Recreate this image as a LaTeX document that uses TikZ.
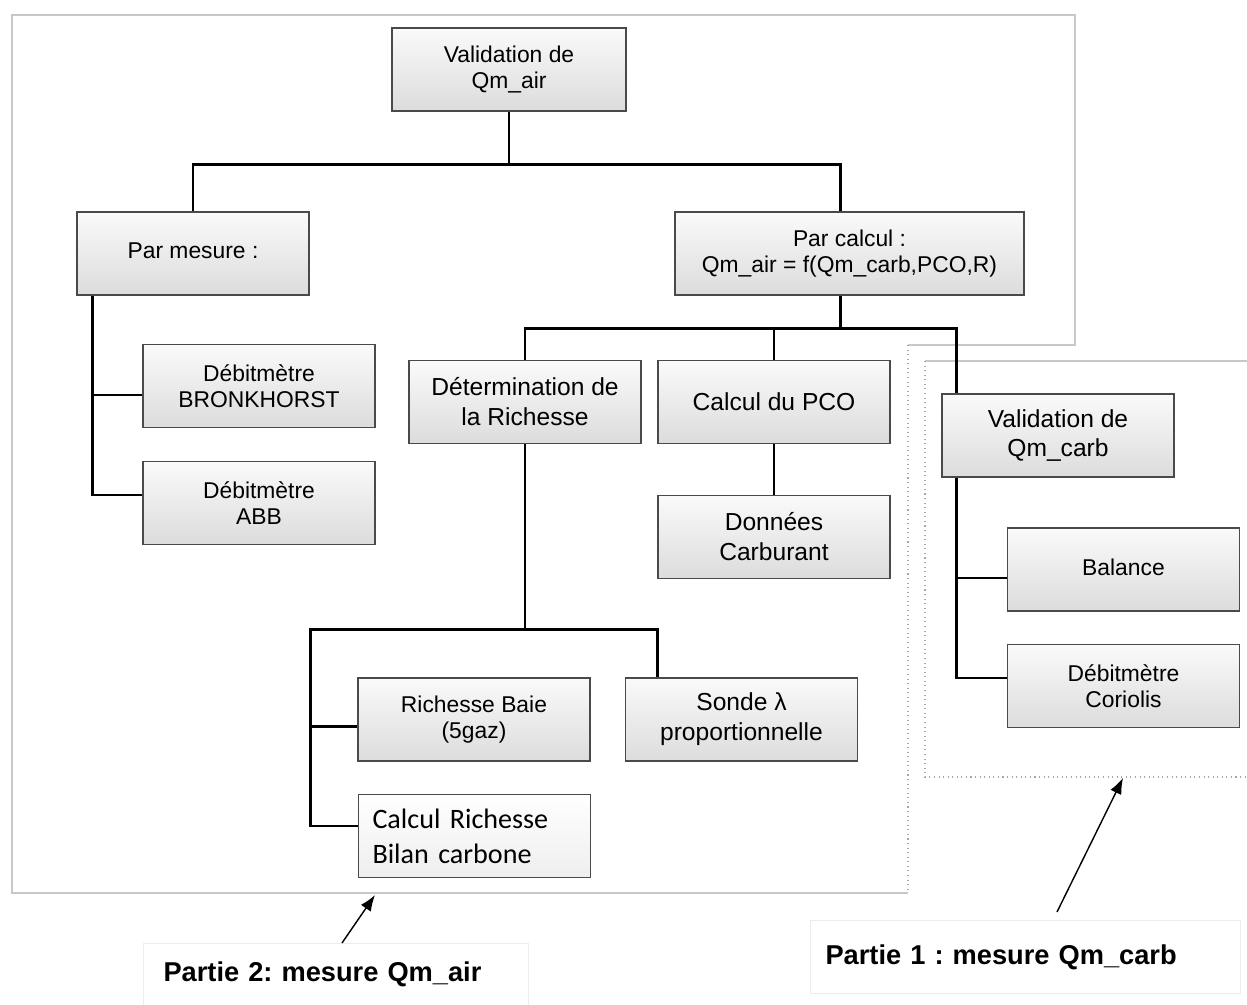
\documentclass[tikz,border=0pt]{standalone}
\usepackage{fontspec}
\setmainfont{Liberation Sans}
\newfontfamily\calibri{Carlito}
\usetikzlibrary{arrows.meta,positioning,calc}
\definecolor{boxline}{HTML}{4A4A4A}
\definecolor{boxtop}{HTML}{FAFAFA}
\definecolor{boxbottom}{HTML}{DCDCDC}
\definecolor{frameline}{HTML}{C8C8C8}
\frenchspacing
\tikzset{
  orgbox/.style={
    draw=boxline,
    line width=1pt,
    top color=boxtop,
    bottom color=boxbottom,
    minimum width=4.64cm,
    minimum height=1.66cm,
    align=center,
    inner sep=2pt,
    font=\fontsize{13}{15}\selectfont
  },
  widebox/.style={
    orgbox,
    minimum width=6.98cm
  },
  plainbox/.style={
    orgbox,
    top color=white,
    bottom color=boxtop!60!boxbottom,
    align=left,
    text width=4.08cm,
    inner xsep=2.8mm,
    font=\calibri\fontsize{16}{20}\selectfont
  },
  link/.style={
    line width=1.6pt,
    draw=black
  },
  framing/.style={
    draw=frameline,
    line width=0.6pt
  },
  dotframe/.style={
    draw=gray!70,
    line width=0.6pt,
    dotted
  },
  caption/.style={
    draw=gray!15,
    line width=0.6pt,
    fill=white,
    align=left,
    font=\bfseries\fontsize{15.5}{18}\selectfont
  },
  arrow/.style={
    -{Latex[length=3.2mm,width=2.4mm]},
    line width=0.8pt
  }
}

\begin{document}
\begin{tikzpicture}[x=0.2mm,y=-0.2mm]
\useasboundingbox (0,0) rectangle (1247,1005);

% frames of the two parts
\draw[framing] (908,345) -- (1075,345) -- (1075,15) -- (12,15) -- (12,893) -- (908,893);
\draw[dotframe] (908,345) -- (908,893);
\draw[framing] (925,361) -- (1247,361);
\draw[dotframe] (925,361) -- (925,777) -- (1247,777);

% Qm_air tree
\node[orgbox, minimum width=4.68cm] (vair) at (509,69.5) {Validation de\\Qm\_air};
\node[orgbox] (mesure) at (193,253.5) {\raisebox{1mm}{Par mesure :}};
\node[widebox] (calc) at (849.5,253.5) {Par calcul :\\Qm\_air = f(Qm\_carb,PCO,R)};
\node[orgbox] (bronk) at (259,386) {Débitmètre\\BRONKHORST};
\node[orgbox] (abb) at (259,503) {Débitmètre\\ABB};
\node[orgbox, font=\fontsize{14}{17}\selectfont] (richdet) at (525,402) {Détermination de\\la Richesse};
\node[orgbox, font=\fontsize{14}{17}\selectfont] (pco) at (774,402) {Calcul du PCO};
\node[orgbox, font=\fontsize{14}{17}\selectfont] (donnees) at (774,537) {Données\\Carburant};
\node[orgbox] (baie) at (474,719.5) {Richesse Baie\\(5gaz)};
\node[orgbox, font=\fontsize{14}{17}\selectfont] (sonde) at (741.5,719.5) {Sonde λ\\proportionnelle};
\node[plainbox] (calcr) at (474.5,836) {Calcul Richesse\\Bilan carbone};

% Qm_carb tree
\node[orgbox, font=\fontsize{14}{17}\selectfont] (vcarb) at (1058,435.5) {Validation de\\Qm\_carb};
\node[orgbox] (balance) at (1123.5,569.5) {\raisebox{1mm}{Balance}};
\node[orgbox] (corio) at (1123.5,686) {Débitmètre\\Coriolis};

% connectors
\draw[link] (vair.south) -- ++(0,53) coordinate (t1);
\draw[link] (mesure.north) |- (t1) -| ([xshift=-1.8mm]calc.north);
\draw[link] ([xshift=3.2mm]mesure.south west) |- ([yshift=-1.8mm]bronk.west);
\draw[link] ([xshift=3.2mm]mesure.south west) |- ([yshift=1.6mm]abb.west);
\draw[link] ([xshift=-1.8mm]calc.south) -- ++(0,33) coordinate (t2);
\draw[link] (richdet.north) |- (t2) -| ([xshift=3mm]vcarb.north west);
\draw[link] (pco.north) -- (pco.north |- t2);
\draw[link] (pco.south) -- (donnees.north);
\draw[link] (richdet.south) -- ++(0,185) coordinate (t3);
\draw[link] ([xshift=6.6mm]sonde.north west) |- (t3) -| ([xshift=-9.4mm,yshift=2mm]calcr.west) -- ([yshift=2mm]calcr.west);
\draw[link] ([xshift=-9.4mm]baie.west |- t3) |- ([yshift=-1.4mm]baie.west);
\draw[link] ([xshift=3mm]vcarb.south west) |- ([yshift=-1.7mm]balance.west);
\draw[link] ([xshift=3mm]vcarb.south west) |- ([yshift=1.6mm]corio.west);

% captions
\node[caption, anchor=north west, minimum width=7.68cm, text width=6.9cm, inner xsep=4mm, inner ysep=3.6mm, text depth=1cm] (cap2) at (143,943) {Partie 2: mesure Qm\_air};
\node[caption, anchor=north west, minimum width=8.6cm, minimum height=1.46cm, text width=8cm, inner xsep=3mm] (cap1) at (810,920) {Partie 1 : mesure Qm\_carb};
\coordinate (p2) at (375,895);
\coordinate (p1) at (1123,778);
\draw[arrow] ([xshift=39.8mm]cap2.north west) -- (p2);
\draw[arrow] (1057,912) -- (p1);
\end{tikzpicture}
\end{document}
